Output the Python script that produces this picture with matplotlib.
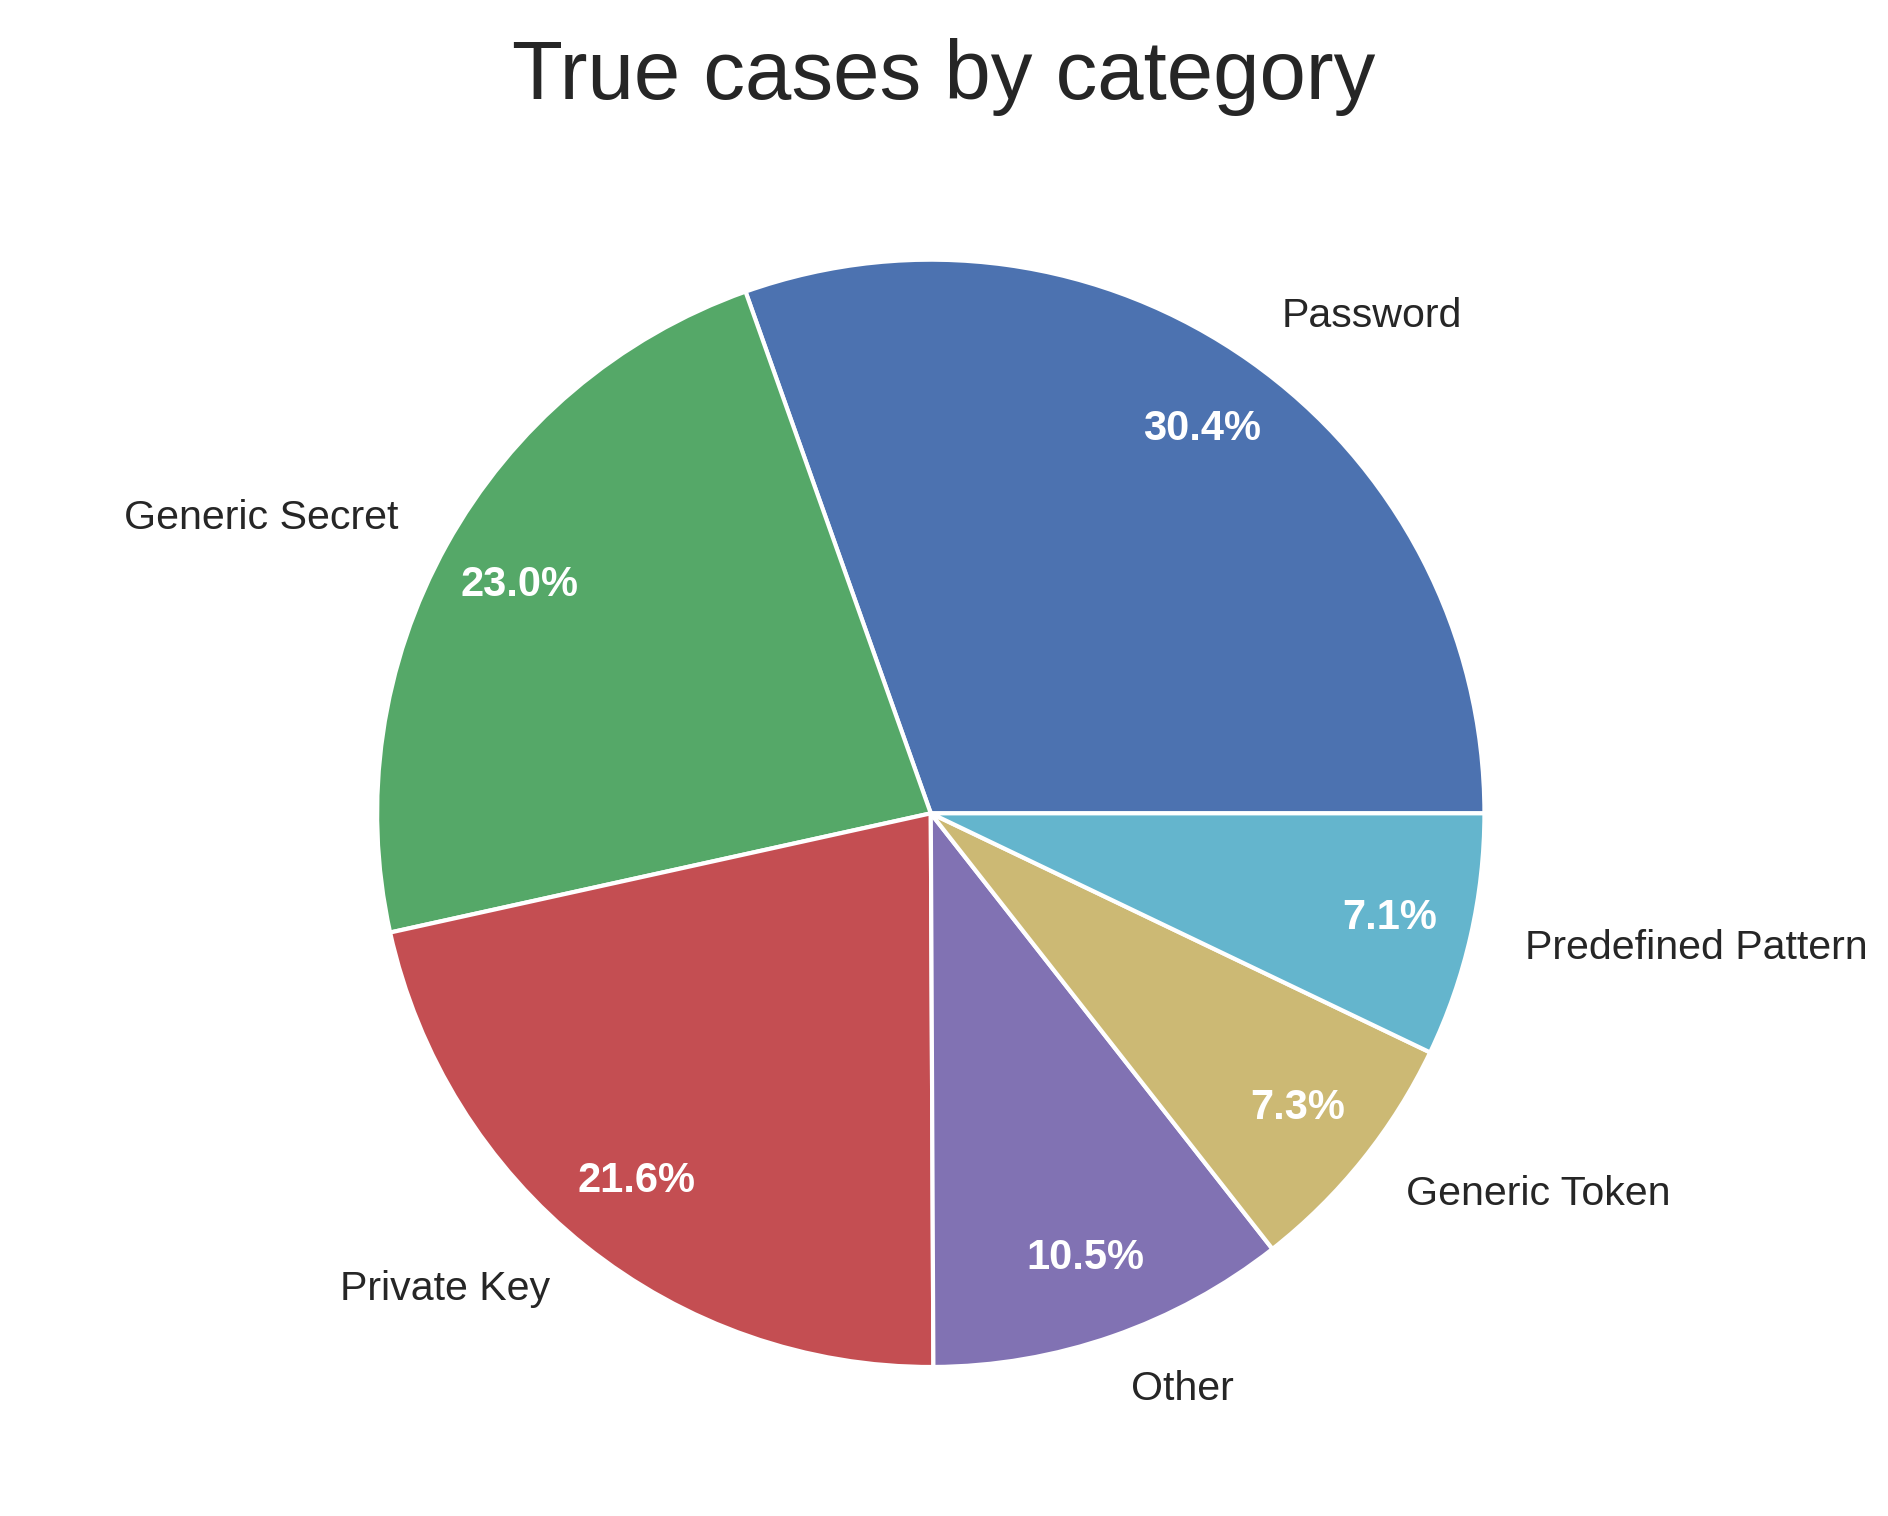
import matplotlib
matplotlib.use("Agg")
import matplotlib.pyplot as plt
import seaborn as sns

categories = ["Password", "Generic Secret", "Private Key", "Other",
              "Generic Token", "Predefined Pattern"]
shares = [30.4, 23.0, 21.6, 10.5, 7.3, 7.1]

sns.set_theme(style="white")
plt.rcParams['font.family'] = ['Liberation Sans', 'DejaVu Sans']

colors = sns.color_palette("deep6", len(categories))

fig, ax = plt.subplots(figsize=(9.44, 7.58), dpi=200)
fig.subplots_adjust(left=-0.014, right=1.0, bottom=0.007, top=0.92)
wedges, texts, autotexts = ax.pie(
    shares, labels=categories, colors=colors, autopct="%1.1f%%",
    pctdistance=0.85, labeldistance=1.1, startangle=0,
    wedgeprops=dict(edgecolor="white", linewidth=1.5),
    textprops=dict(fontsize=14.8, color="#262626"))
for t in autotexts:
    t.set_color("white")
    t.set_fontweight("bold")
    t.set_fontsize(15)
ax.set_aspect("equal")
fig.suptitle("True cases by category", fontsize=30, color="#262626", y=0.975)

fig.savefig("out.png", dpi=200)
